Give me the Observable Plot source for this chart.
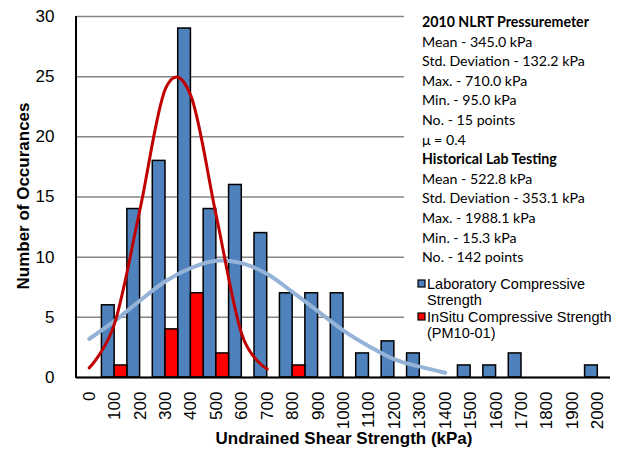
<!DOCTYPE html>
<html><head><meta charset="utf-8">
<script src="https://cdn.jsdelivr.net/npm/d3@7"></script>
<script src="https://cdn.jsdelivr.net/npm/@observablehq/plot@0.6"></script>
<style>body{margin:0;background:#fff}</style>
</head><body><div id="chart"></div>
<script>
const categories = ["0","100","200","300","400","500","600","700","800","900","1000","1100","1200","1300","1400","1500","1600","1700","1800","1900","2000"];
const labCounts    = [0,6,14,18,29,14,16,12,7,7,7,2,3,2,0,1,1,2,0,0,1];
const insituCounts = [0,1,0,4,7,2,0,0,1,0,0,0,0,0,0,0,0,0,0,0,0];
const insituCurveCats = ["0","100","200","300","400","500","600","700"];
const insituCurve = [0.8,4.5,14.0,24.0,23.4,13.4,3.6,0.7];
const labCurveCats = ["0","100","200","300","400","500","600","700","800","900","1000","1100","1200","1300","1400"];
const labCurve = [3.2,4.7,6.4,8.0,9.1,9.7,9.5,8.6,7.1,5.5,3.9,2.6,1.5,0.9,0.4];
const yTicks = [0,5,10,15,20,25,30];
const statsLines = [
  ["2010 NLRT Pressuremeter", true],
  ["Mean - 345.0 kPa", false],
  ["Std. Deviation - 132.2 kPa", false],
  ["Max. - 710.0 kPa", false],
  ["Min. - 95.0 kPa", false],
  ["No. - 15 points", false],
  ["\u03bc = 0.4", false],
  ["Historical Lab Testing", true],
  ["Mean - 522.8 kPa", false],
  ["Std. Deviation - 353.1 kPa", false],
  ["Max. - 1988.1 kPa", false],
  ["Min. - 15.3 kPa", false],
  ["No. - 142 points", false]
];
const legendItems = [
  {label: ["Laboratory Compressive", "Strength"], color: "#4f81bd"},
  {label: ["InSitu Compressive Strength", "(PM10-01)"], color: "#ff0000"}
];

const W = 624, H = 449, mL = 76, mR = 14, mT = 16, mB = 72;
const bw = (W - mL - mR) / categories.length;

const labData = categories.map((c, i) => ({cat: c, v: labCounts[i]})).filter(d => d.v > 0);
const insData = categories.map((c, i) => ({cat: c, v: insituCounts[i]})).filter(d => d.v > 0);
const insCurveData = insituCurveCats.map((c, i) => ({cat: c, v: insituCurve[i]}));
const labCurveData = labCurveCats.map((c, i) => ({cat: c, v: labCurve[i]}));

const chart = Plot.plot({
  width: W, height: H,
  marginLeft: mL, marginRight: mR, marginTop: mT, marginBottom: mB,
  style: {fontFamily: "'Liberation Sans', Arial, sans-serif", fontSize: "17px", color: "#000", background: "#fff"},
  x: {domain: categories, padding: 0, round: false, label: null, tickRotate: -90, tickSize: 0, tickPadding: 14},
  y: {domain: [0, 30], ticks: yTicks, label: null, tickSize: 0, tickPadding: 22},
  marks: [
    Plot.gridY(yTicks, {stroke: "#868686", strokeOpacity: 1, strokeWidth: 1.5}),
    Plot.barY(labData, {x: "cat", y: "v", fill: "#4f81bd", stroke: "#000", strokeWidth: 1.5, insetRight: bw / 2}),
    Plot.barY(insData, {x: "cat", y: "v", fill: "#ff0000", stroke: "#000", strokeWidth: 1.5, insetLeft: bw / 2}),
    Plot.line(labCurveData, {x: "cat", y: "v", stroke: "#95b3d7", strokeWidth: 4, curve: "cardinal"}),
    Plot.line(insCurveData, {x: "cat", y: "v", stroke: "#c00000", strokeWidth: 3, curve: "cardinal"}),
    Plot.ruleY([0], {stroke: "#000", strokeWidth: 2})
  ]
});

const svg = d3.select(chart);
const NS = "http://www.w3.org/2000/svg";
// white text box covering gridlines (placed right after the grid group)
const box = document.createElementNS(NS, "rect");
box.setAttribute("x", 404); box.setAttribute("y", 4);
box.setAttribute("width", 220); box.setAttribute("height", 342);
box.setAttribute("fill", "#fff");
const gridNode = chart.querySelector("[aria-label='y-grid']") || chart.querySelector("[aria-label='bar']");
if (gridNode && gridNode.nextSibling) chart.insertBefore(box, gridNode.nextSibling);
else chart.insertBefore(box, chart.firstChild);
// y axis line and small inner ticks
svg.append("line").attr("x1", mL).attr("x2", mL).attr("y1", mT).attr("y2", H - mB + 1)
  .attr("stroke", "#000").attr("stroke-width", 2);
// axis titles
svg.append("text").attr("x", 344).attr("y", 444).attr("text-anchor", "middle")
  .attr("font-weight", "bold").attr("font-size", 17).text("Undrained Shear Strength (kPa)");
svg.append("text").attr("transform", "translate(29,196) rotate(-90)").attr("text-anchor", "middle")
  .attr("font-weight", "bold").attr("font-size", 17).text("Number of Occurances");
// stats box text
const g = svg.append("g").attr("font-family", "Lato, 'Open Sans', sans-serif").attr("font-size", 14.2)
  .attr("text-anchor", "start");
statsLines.forEach(([t, b], i) => {
  g.append("text").attr("x", 422).attr("y", 27 + i * 19.6)
    .attr("font-weight", b ? "bold" : "normal").text(t);
});
// legend
const lg = svg.append("g").attr("font-size", 14.5).attr("text-anchor", "start");
legendItems.forEach((it, i) => {
  const y0 = 284 + i * 33;
  lg.append("rect").attr("x", 418).attr("y", y0 - 4).attr("width", 7).attr("height", 7)
    .attr("fill", it.color).attr("stroke", "#000").attr("stroke-width", 1.2);
  it.label.forEach((l, j) => {
    lg.append("text").attr("x", 427).attr("y", y0 + 5 + j * 16).text(l);
  });
});

document.getElementById("chart").appendChild(chart);
</script>
</body></html>
